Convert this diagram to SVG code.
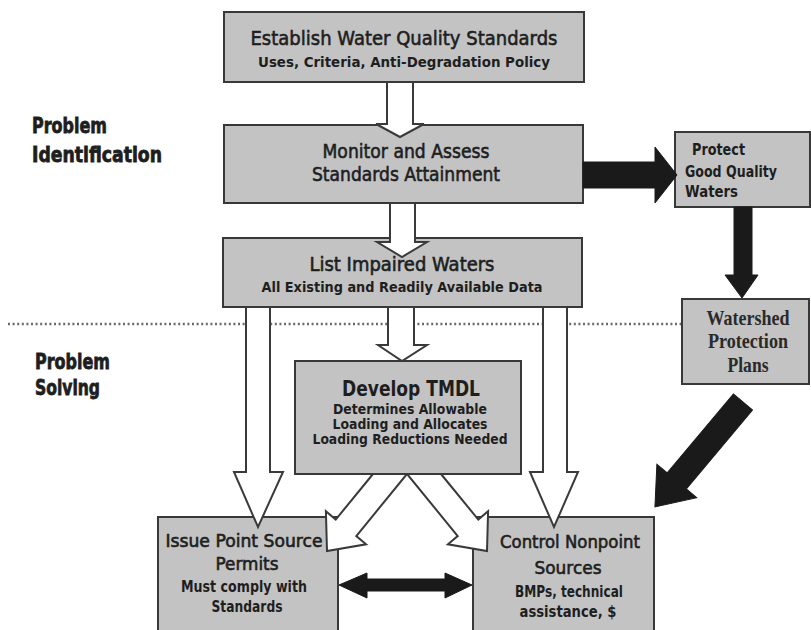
<svg xmlns="http://www.w3.org/2000/svg" width="811" height="630" viewBox="0 0 811 630">
  <style>
    .box { fill: #c3c3c3; stroke: #383838; stroke-width: 2; }
    .t { font-family: "DejaVu Sans", "Liberation Sans", sans-serif; fill: #1e1e1e; text-anchor: middle; }
    .title { font-weight: normal; stroke: #1e1e1e; stroke-width: 0.6; }
    .sub { font-weight: bold; }
    .side { font-family: "DejaVu Sans", "Liberation Sans", sans-serif; font-weight: bold; fill: #1e1e1e; font-size: 21px; stroke: #1e1e1e; stroke-width: 0.8; }
    .serif { font-family: "Liberation Serif", "DejaVu Serif", serif; font-weight: bold; fill: #2a2a2a; text-anchor: middle; font-size: 21px; }
    .hollow { fill: #ffffff; stroke: #3a3a3a; stroke-width: 2; stroke-linejoin: miter; }
    .solid { fill: #1a1a1a; stroke: #1a1a1a; stroke-width: 1; }
    .divider { stroke: #6a6a6a; stroke-width: 2.4; stroke-dasharray: 2 2.6; fill: none; }
  </style>

  <rect width="811" height="630" fill="#ffffff"/>

  <!-- phase divider -->
  <line class="divider" x1="8" y1="324" x2="682" y2="324"/>

  <!-- phase labels -->
  <g id="label-identification">
    <text class="side" x="32" y="133" textLength="75" lengthAdjust="spacingAndGlyphs">Problem</text>
    <text class="side" x="32" y="162" textLength="130" lengthAdjust="spacingAndGlyphs">Identification</text>
  </g>
  <g id="label-solving">
    <text class="side" x="35" y="369" textLength="75" lengthAdjust="spacingAndGlyphs">Problem</text>
    <text class="side" x="35" y="395" textLength="65" lengthAdjust="spacingAndGlyphs">Solving</text>
  </g>

  <!-- nodes -->
  <g id="standards">
    <rect class="box" x="224" y="12" width="360" height="70"/>
    <text class="t title" x="404" y="45" font-size="20" textLength="307" lengthAdjust="spacingAndGlyphs">Establish Water Quality Standards</text>
    <text class="t sub" x="404" y="67" font-size="14" textLength="292" lengthAdjust="spacingAndGlyphs">Uses, Criteria, Anti-Degradation Policy</text>
  </g>

  <g id="monitor">
    <rect class="box" x="224" y="125" width="359" height="78"/>
    <text class="t title" x="406" y="158" font-size="19" textLength="167" lengthAdjust="spacingAndGlyphs">Monitor and Assess</text>
    <text class="t title" x="406" y="181" font-size="19" textLength="188" lengthAdjust="spacingAndGlyphs">Standards Attainment</text>
  </g>

  <g id="protect">
    <rect class="box" x="675" y="132" width="135" height="75"/>
    <text class="t sub" x="692" y="155" font-size="15" style="text-anchor:start" textLength="53" lengthAdjust="spacingAndGlyphs">Protect</text>
    <text class="t sub" x="685" y="177" font-size="15" style="text-anchor:start" textLength="92" lengthAdjust="spacingAndGlyphs">Good Quality</text>
    <text class="t sub" x="685" y="197" font-size="15" style="text-anchor:start" textLength="53" lengthAdjust="spacingAndGlyphs">Waters</text>
  </g>

  <g id="impaired">
    <rect class="box" x="223" y="238" width="359" height="69"/>
    <text class="t title" x="402" y="271" font-size="19" textLength="185" lengthAdjust="spacingAndGlyphs">List Impaired Waters</text>
    <text class="t sub" x="402" y="292" font-size="14" textLength="281" lengthAdjust="spacingAndGlyphs">All Existing and Readily Available Data</text>
  </g>

  <g id="watershed">
    <rect class="box" x="682" y="299" width="127" height="85"/>
    <text class="serif" x="748" y="325" textLength="83" lengthAdjust="spacingAndGlyphs">Watershed</text>
    <text class="serif" x="748" y="348" textLength="80" lengthAdjust="spacingAndGlyphs">Protection</text>
    <text class="serif" x="748" y="372" textLength="41" lengthAdjust="spacingAndGlyphs">Plans</text>
  </g>

  <g id="tmdl">
    <rect class="box" x="295" y="361" width="226" height="113"/>
    <text class="t sub" x="411" y="396" font-size="21" textLength="138" lengthAdjust="spacingAndGlyphs">Develop TMDL</text>
    <text class="t sub" x="410" y="414" font-size="13.5" textLength="154" lengthAdjust="spacingAndGlyphs">Determines Allowable</text>
    <text class="t sub" x="410" y="429" font-size="13.5" textLength="155" lengthAdjust="spacingAndGlyphs">Loading and Allocates</text>
    <text class="t sub" x="410" y="444" font-size="13.5" textLength="195" lengthAdjust="spacingAndGlyphs">Loading Reductions Needed</text>
  </g>

  <g id="point-source">
    <rect class="box" x="158" y="517" width="180" height="120"/>
    <text class="t title" x="244" y="547" font-size="17" textLength="157" lengthAdjust="spacingAndGlyphs">Issue Point Source</text>
    <text class="t title" x="247" y="570" font-size="17" textLength="63" lengthAdjust="spacingAndGlyphs">Permits</text>
    <text class="t sub" x="244" y="592" font-size="15" textLength="126" lengthAdjust="spacingAndGlyphs">Must comply with</text>
    <text class="t sub" x="247" y="612" font-size="15" textLength="71" lengthAdjust="spacingAndGlyphs">Standards</text>
  </g>

  <g id="nonpoint">
    <rect class="box" x="473" y="517" width="181" height="120"/>
    <text class="t title" x="570" y="548" font-size="17" textLength="140" lengthAdjust="spacingAndGlyphs">Control Nonpoint</text>
    <text class="t title" x="568" y="574" font-size="17" textLength="67" lengthAdjust="spacingAndGlyphs">Sources</text>
    <text class="t sub" x="569" y="597" font-size="15" textLength="108" lengthAdjust="spacingAndGlyphs">BMPs, technical</text>
    <text class="t sub" x="568" y="617" font-size="15" textLength="97" lengthAdjust="spacingAndGlyphs">assistance, $</text>
  </g>

  <!-- connectors -->
  <g id="connectors">
    <!-- hollow flow arrows -->
    <polygon class="hollow" points="387,82 387,124 376,124 400,137 424,124 413,124 413,82"/>
    <polygon class="hollow" points="390,203 390,242 377,242 402,257 427,242 415,242 415,203"/>
    <polygon class="hollow" points="388,307 388,345 378,345 402,361 427,345 414,345 414,307"/>
    <polygon class="hollow" points="246,307 246,472 234,472 258,527 283,472 270,472 270,307"/>
    <polygon class="hollow" points="543,307 543,472 530,472 554,527 578,472 567,472 567,307"/>
    <polygon class="hollow" points="373,474 335.7,519.6 325.9,511.3 327,551 366.1,544.3 356.3,536 407,474"/>
    <polygon class="hollow" points="441,474 478.3,519.6 488.1,511.3 487,551 447.9,544.3 457.7,536 407,474"/>

    <!-- solid arrows -->
    <polygon class="solid" points="583,162 655,162 655,147 677,175 655,203 655,188 583,188"/>
    <polygon class="solid" points="734,207 734,275 725,275 742,298 758,275 752,275 752,207"/>
    <polygon class="solid" transform="translate(743,402) rotate(130)" points="0,-12.5 103,-12.5 103,-26 137,0 103,26 103,12.5 0,12.5"/>
    <polygon class="solid" points="339,585 367,573 367,579 445,579 445,573 472,585 445,598 445,591 367,591 367,598"/>
  </g>
</svg>
